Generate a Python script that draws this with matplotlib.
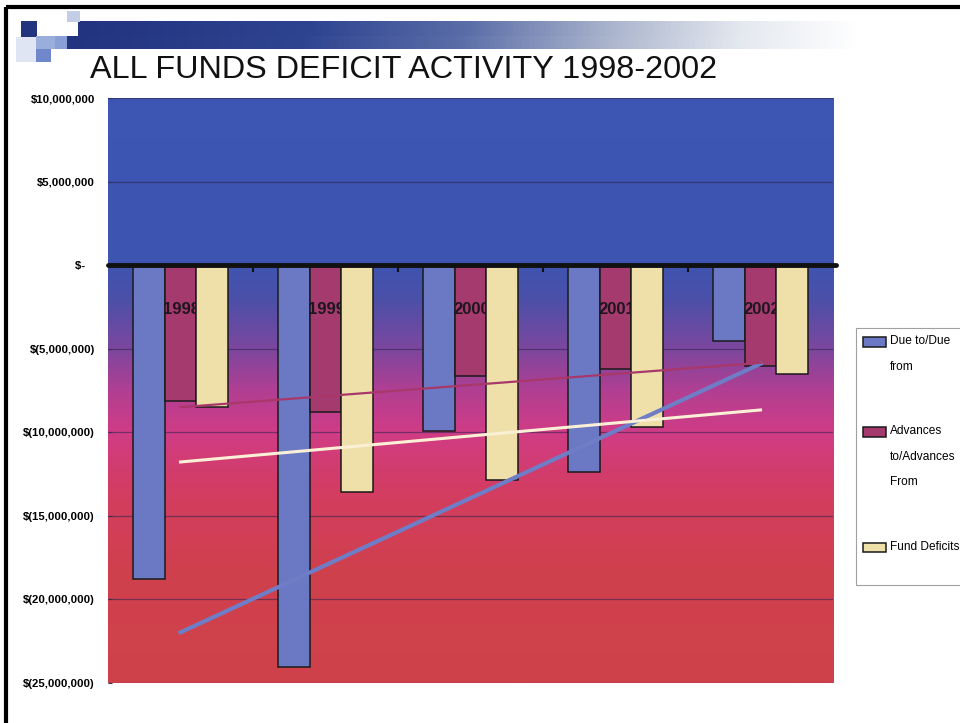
import numpy as np
import matplotlib.pyplot as plt
from matplotlib.colors import LinearSegmentedColormap
from matplotlib.ticker import FuncFormatter
from matplotlib.patches import Rectangle
from matplotlib.legend_handler import HandlerPatch, update_from_first_child

# =========================================================
# Dados (em dólares)
# =========================================================
anos = ["1998", "1999", "2000", "2001", "2002"]
due_to = [-18.8e6, -24.06e6, -9.9e6, -12.36e6, -4.56e6]
advances = [-8.1e6, -8.8e6, -6.66e6, -6.24e6, -6.06e6]
fund_deficits = [-8.46e6, -13.6e6, -12.84e6, -9.66e6, -6.54e6]
nomes = ["Due to/Due\nfrom", "Advances\nto/Advances\nFrom", "Fund Deficits"]
y_ticks = [10e6, 5e6, 0, -5e6, -10e6, -15e6, -20e6, -25e6]

COR_DUE = "#6b79c4"
COR_ADV = "#a43a6e"
COR_FD = "#eee0a8"
TREND_CORES = ["#6f7cc6", "#a8386a", "#fbf0d6"]
TREND_LW = [3.0, 1.6, 2.2]

FONTE = ["Liberation Sans", "DejaVu Sans"]
LEG_FS = 8.6        # pt
LEG_PASSO = 18.0    # pt entre linhas da legenda (~25 px)

W, H = 960, 723
fig = plt.figure(figsize=(W / 100, H / 100), dpi=100)
fig.patch.set_facecolor("white")

# =========================================================
# Decoração do slide (moldura, faixa e quadradinhos)
# =========================================================
deco = fig.add_axes([0, 0, 1, 1], zorder=-5)
deco.set_xlim(0, W)
deco.set_ylim(H, 0)
deco.axis("off")

deco.plot([6, W], [7, 7], color="black", lw=3, solid_capstyle="butt")
deco.plot([6, 6], [7, H], color="black", lw=3, solid_capstyle="butt")

faixa = np.linspace(0, 1, 400)[None, :]
cmap_faixa = LinearSegmentedColormap.from_list("faixa", [
    (0.00, "#22337f"), (0.30, "#2f4491"), (0.50, "#5b6ea8"),
    (0.68, "#a9b3cc"), (0.85, "#e4e8ef"), (1.00, "#ffffff")])
deco.imshow(faixa, cmap=cmap_faixa, extent=[78, 860, 37, 21], aspect="auto", zorder=1)
deco.imshow(faixa, cmap=cmap_faixa, extent=[62, 860, 49, 36], aspect="auto", zorder=1)
for (x0, y0, w, h, c) in [(21, 21, 16, 16, "#23357f"),
                          (67, 11, 13, 11, "#c4cde6"),
                          (36, 36, 19, 13, "#9aaedc"),
                          (36, 49, 15, 13, "#7087cc"),
                          (16, 37, 20, 25, "#dfe5f2"),
                          (55, 36, 12, 13, "#8a9fd6")]:
    deco.add_patch(Rectangle((x0, y0), w, h, color=c, zorder=2, lw=0))

fig.text(90 / W, 1 - 70 / H, "ALL FUNDS DEFICIT ACTIVITY 1998-2002",
         fontsize=23.3, family=FONTE, color="#111111", va="center", ha="left")

# =========================================================
# Gráfico
# =========================================================
ax = fig.add_axes([108 / W, 1 - 683 / H, 725 / W, 585 / H])
x = np.arange(len(anos))
ax.set_xlim(-0.5, len(anos) - 0.5)
ax.set_ylim(y_ticks[-1], y_ticks[0])

# fundo degradê azul -> roxo -> magenta -> vermelho
fundo = LinearSegmentedColormap.from_list("fundo", [
    (0.00, "#cf424a"),
    (0.20, "#d0404e"),
    (0.33, "#d33d62"),
    (0.43, "#d03c86"),
    (0.50, "#b13f92"),
    (0.57, "#7d479e"),
    (0.66, "#4a50a9"),
    (0.72, "#3e54b0"),
    (1.00, "#3d56b4"),
])
ax.imshow(np.linspace(0, 1, 512)[:, None], cmap=fundo, origin="lower",
          extent=[-0.5, len(anos) - 0.5, y_ticks[-1], y_ticks[0]],
          aspect="auto", zorder=0)

ax.set_yticks(y_ticks)
ax.grid(axis="y", color="#2b2350", lw=0.9, alpha=0.55, zorder=1)
ax.set_axisbelow(True)


def fmt_dolar(v, pos):
    if v == 0:
        return "$-   "
    if v < 0:
        return f"$({abs(v):,.0f})"
    return f"${v:,.0f}"


ax.yaxis.set_major_formatter(FuncFormatter(fmt_dolar))
ax.tick_params(axis="y", labelsize=8.2, length=3, direction="in", color="#333355", pad=9.5)
for lab in ax.get_yticklabels():
    lab.set_family(FONTE)
    lab.set_fontweight("bold")
ax.set_xticks([])
for s in ax.spines.values():
    s.set_visible(False)

largura = 0.22
series = [due_to, advances, fund_deficits]
cores = [COR_DUE, COR_ADV, COR_FD]
ordem_z = [3, 3, 4]
barras = []
for k, (vals, cor, nome, zo) in enumerate(zip(series, cores, nomes, ordem_z)):
    b = ax.bar(x + (k - 1) * largura, vals, largura, color=cor,
               edgecolor="#1a1a1a", linewidth=1.1, label=nome, zorder=zo)
    barras.append(b)

# rótulos dos anos (por cima das duas primeiras barras, por baixo da terceira)
for xi, ano in zip(x, anos):
    ax.text(xi + 0.01, -2.65e6, ano, ha="center", va="center", fontsize=12,
            fontweight="bold", family=FONTE, color="#1e161e", zorder=3.5)

# linhas de tendência (ajuste linear)
for vals, cor, lw in zip(series, TREND_CORES, TREND_LW):
    a, b0 = np.polyfit(x, vals, 1)
    ax.plot([x[0], x[-1]], [b0 + a * x[0], b0 + a * x[-1]],
            color=cor, lw=lw, zorder=5)

# eixo das categorias no zero
ax.plot([-0.5, len(anos) - 0.48], [0, 0], color="#111111", lw=3.5,
        solid_capstyle="round", zorder=6, clip_on=False)
ax.vlines(x[:-1] + 0.5, -0.4e6, 0, color="#111111", lw=1.5, zorder=6)


# =========================================================
# Legenda — quadradinho alinhado à primeira linha do rótulo
# (o último rótulo ganha uma linha vazia para a caixa descer como no original)
# =========================================================
rotulos_leg = nomes[:-1] + [nomes[-1] + "\n "]


def faz_handler(n_linhas):
    desloc = (n_linhas - 1) / 2 * LEG_PASSO

    def patch_func(legend, orig_handle, xdescent, ydescent, width, height, fontsize):
        return Rectangle((-xdescent, -ydescent + desloc), width, height)

    return HandlerPatch(patch_func=patch_func, update_func=update_from_first_child)


mapa = {b: faz_handler(r.count("\n") + 1) for b, r in zip(barras, rotulos_leg)}
leg = fig.legend(handles=barras, labels=rotulos_leg, loc="upper left",
                 bbox_to_anchor=(856 / W, 1 - 328 / H), handler_map=mapa,
                 frameon=True, fancybox=False, edgecolor="#888888",
                 prop={"family": FONTE, "size": LEG_FS},
                 labelspacing=4.4, handlelength=1.95, handleheight=0.85,
                 handletextpad=0.3, borderpad=0.6, borderaxespad=0)
leg.get_frame().set_linewidth(0.8)
for t in leg.get_texts():
    t.set_linespacing(2.5)

plt.savefig("out.png", dpi=100)
